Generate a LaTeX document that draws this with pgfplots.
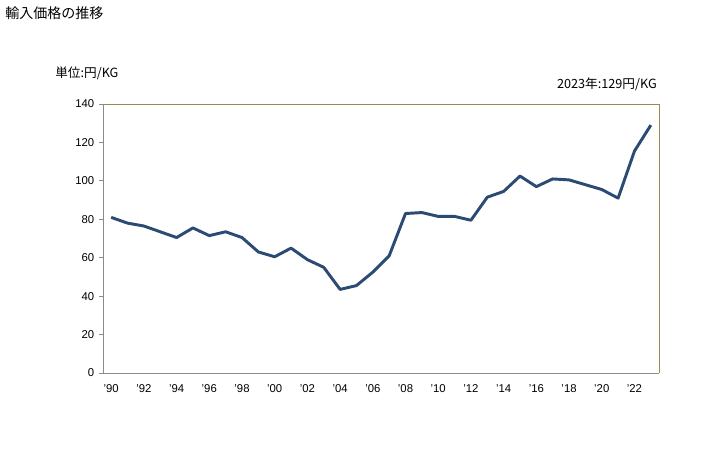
\documentclass[border=0pt]{standalone}
\usepackage{pgfplots}
\pgfplotsset{compat=1.18}
\usepackage{fontspec}
\setmainfont{Liberation Sans}
\newfontfamily\cjk{Noto Sans CJK JP}
\definecolor{linec}{HTML}{2B4A74}
\definecolor{framegold}{HTML}{9A8A4E}
\definecolor{axgray}{HTML}{8C8C8C}
\begin{document}
\begin{tikzpicture}[x=0.75pt,y=0.75pt]
\path[use as bounding box] (0,0) rectangle (728,450);
\node[anchor=north west,inner sep=0pt,font=\cjk\fontsize{10.5}{12}\selectfont] at (5,444) {輸入価格の推移};
\node[anchor=north west,inner sep=0pt,font=\cjk\fontsize{9.5}{11}\selectfont] at (55,383) {単位:円/KG};
\node[anchor=north east,inner sep=0pt,font=\cjk\fontsize{9.5}{11}\selectfont] at (657,372) {2023年:129円/KG};
\begin{axis}[
  at={(77.25pt,57.75pt)}, anchor=south west,
  scale only axis, width=417pt, height=201.75pt,
  xmin=1989.5, xmax=2023.5, ymin=0, ymax=140,
  axis x line*=bottom, axis y line*=left,
  axis line style={axgray, line width=0.7pt},
  x axis line style={-}, y axis line style={-},
  xtick={1990,1992,...,2022},
  xticklabels={'90,'92,'94,'96,'98,'00,'02,'04,'06,'08,'10,'12,'14,'16,'18,'20,'22},
  ytick={0,20,...,140},
  tick style={axgray, line width=0.6pt},
  tick align=outside, major tick length=3pt,
  x tick style={draw=none},
  ticklabel style={font=\fontsize{8.5}{10}\selectfont},
  /pgf/number format/assume math mode=true,
  yticklabel style={/pgf/number format/.cd, fixed, 1000 sep={}},
  xticklabel style={yshift=-2pt},
  clip=false,
]
\draw[framegold, line width=0.7pt] (rel axis cs:0,1) -- (rel axis cs:1,1) -- (rel axis cs:1,0);
\addplot[linec, line width=2.2pt, line join=round, no marks] coordinates {
(1990,81) (1991,78) (1992,76.5) (1993,73.5) (1994,70.5) (1995,75.5) (1996,71.5) (1997,73.5) (1998,70.5) (1999,63)
(2000,60.5) (2001,65) (2002,59) (2003,55) (2004,43.5) (2005,45.5) (2006,52.5) (2007,61) (2008,83) (2009,83.5)
(2010,81.5) (2011,81.5) (2012,79.5) (2013,91.5) (2014,94.5) (2015,102.5) (2016,97) (2017,101) (2018,100.5) (2019,98)
(2020,95.5) (2021,91) (2022,115.5) (2023,129)
};
\end{axis}
\end{tikzpicture}
\end{document}
